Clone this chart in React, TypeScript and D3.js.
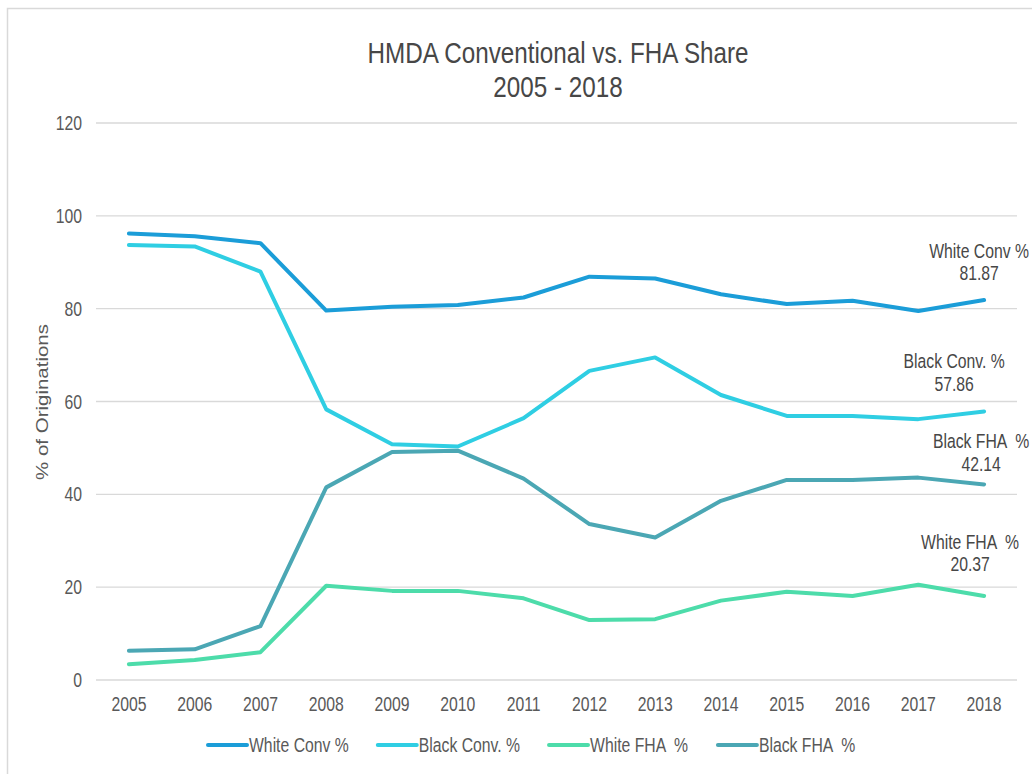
import React from "react";
import * as d3 from "d3";

// ---------- data ----------
const years: string[] = ["2005","2006","2007","2008","2009","2010","2011","2012","2013","2014","2015","2016","2017","2018"];
const whiteConv: number[] = [96.2, 95.6, 94.1, 79.6, 80.4, 80.8, 82.4, 86.9, 86.5, 83.1, 81.0, 81.7, 79.5, 81.87];
const blackConv: number[] = [93.7, 93.4, 88.0, 58.3, 50.8, 50.3, 56.4, 66.6, 69.5, 61.4, 56.9, 56.9, 56.2, 57.86];
const whiteFHA: number[] = [3.4, 4.3, 6.0, 20.3, 19.2, 19.2, 17.6, 12.9, 13.1, 17.1, 19.0, 18.1, 20.5, 18.1];
const blackFHA: number[] = [6.3, 6.6, 11.6, 41.5, 49.1, 49.4, 43.4, 33.6, 30.7, 38.6, 43.1, 43.1, 43.6, 42.14];
const yTicks: number[] = [0, 20, 40, 60, 80, 100, 120];
const seriesNames: string[] = ["White Conv %", "Black Conv. %", "White FHA  %", "Black FHA  %"];
const seriesColors: string[] = ["#1b9dd8", "#2fcee3", "#4ddcaa", "#4ba7b4"];
const endLabelNames: string[] = ["White Conv %", "Black Conv. %", "White FHA  %", "Black FHA  %"];
const endLabelValues: string[] = ["81.87", "57.86", "20.37", "42.14"];
const titleLines: string[] = ["HMDA Conventional vs. FHA Share", "2005 - 2018"];
const yAxisTitle = "% of Originations";

const seriesValues: number[][] = [whiteConv, blackConv, whiteFHA, blackFHA];

// ---------- layout ----------
const W = 1032, H = 774;
const SX = 0.8; // horizontal condensation of the text
const FONT = "'Liberation Sans', Arial, sans-serif";
const FS = 19.7;
const BO = 7; // baseline offset for vertically centred text
const TEXT = "#595959";
const DARK = "#474747";
// label offsets relative to last point (dx, dy of first line baseline)
const labelOffsets: [number, number][] = [[-5, -42], [-30, -43], [-14, -47], [-3, -36]];

function measure(text: string, size: number): number {
  if (typeof document === "undefined") return text.length * size * 0.5;
  const c = document.createElement("canvas").getContext("2d");
  if (!c) return text.length * size * 0.5;
  c.font = `${size}px 'Liberation Sans', Arial, sans-serif`;
  return c.measureText(text).width;
}

const T = ({ x, y, anchor = "start", size = FS, fill = TEXT, children }: any) => (
  <text
    transform={`translate(${x},${y}) scale(${SX},1)`}
    textAnchor={anchor}
    fontSize={size}
    fill={fill}
    fontFamily={FONT}
    style={{ whiteSpace: "pre" }}
  >
    {children}
  </text>
);

export default function App() {
  const x = d3.scalePoint<string>().domain(years).range([96, 1017]).padding(0.5);
  const y = d3.scaleLinear().domain([0, 120]).range([680, 123]);
  const line = d3
    .line<number>()
    .x((_, i) => x(years[i]) as number)
    .y((d) => y(d));

  // legend layout
  const legendY = 745;
  let lx = 208;
  const legendItems = seriesNames.map((name, i) => {
    const item = { name, color: seriesColors[i], x: lx };
    lx += 41 + measure(name, FS) * SX + 29;
    return item;
  });

  const lastX = x(years[years.length - 1]) as number;

  return (
    <svg
      width={W}
      height={H}
      style={{ position: "absolute", left: 0, top: 0, background: "#fff" }}
    >
      <rect x={7.5} y={8.5} width={W + 20} height={H + 20} fill="#fff" stroke="#d9d9d9" strokeWidth={1.5} />

      {/* title */}
      <T x={558} y={63} anchor="middle" size={30.3} fill={DARK}>{titleLines[0]}</T>
      <T x={558} y={97} anchor="middle" size={30.3} fill={DARK}>{titleLines[1]}</T>

      {/* gridlines + y ticks */}
      {yTicks.map((t) => (
        <g key={t}>
          <line x1={96} x2={1017} y1={y(t)} y2={y(t)} stroke="#d9d9d9" strokeWidth={1.3} />
          <T x={82} y={y(t) + BO} anchor="end">{String(t)}</T>
        </g>
      ))}

      {/* y axis title */}
      <text
        transform={`translate(48,402) scale(${SX},1) rotate(-90)`}
        textAnchor="middle"
        fontSize={20.5}
        fill={TEXT}
        fontFamily={FONT}
      >
        {yAxisTitle}
      </text>

      {/* x ticks */}
      {years.map((yr) => (
        <T key={yr} x={x(yr) as number} y={711} anchor="middle">{yr}</T>
      ))}

      {/* lines */}
      {seriesValues.map((vals, i) => (
        <path
          key={i}
          d={line(vals) || ""}
          fill="none"
          stroke={seriesColors[i]}
          strokeWidth={4}
          strokeLinejoin="round"
          strokeLinecap="round"
        />
      ))}

      {/* end labels */}
      {seriesValues.map((vals, i) => {
        const px = lastX + labelOffsets[i][0];
        const py = y(vals[vals.length - 1]) + labelOffsets[i][1];
        return (
          <g key={i}>
            <T x={px} y={py} anchor="middle" fill={DARK}>{endLabelNames[i]}</T>
            <T x={px} y={py + 22.5} anchor="middle" fill={DARK}>{endLabelValues[i]}</T>
          </g>
        );
      })}

      {/* legend */}
      {legendItems.map((it) => (
        <g key={it.name}>
          <line x1={it.x} x2={it.x + 39} y1={legendY} y2={legendY} stroke={it.color} strokeWidth={4} strokeLinecap="round" />
          <T x={it.x + 41} y={legendY + BO}>{it.name}</T>
        </g>
      ))}
    </svg>
  );
}
